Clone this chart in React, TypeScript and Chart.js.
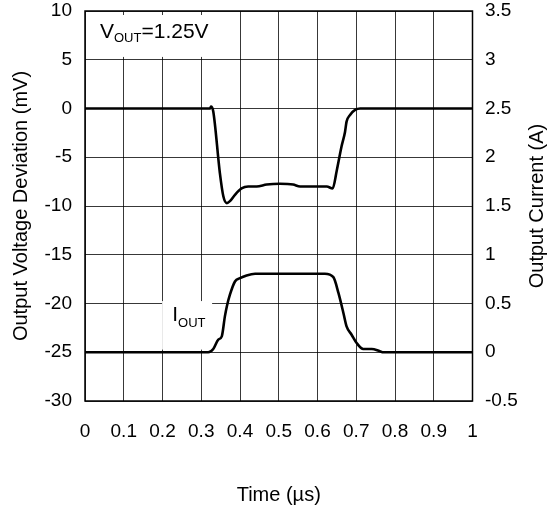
import { useEffect, useRef } from 'react';
import { Chart, registerables } from 'chart.js';

Chart.register(...registerables);

const FONT = '"Liberation Sans", Arial, Helvetica, sans-serif';

// Time axis (µs) and series
const timeV = [0, 0.323, 0.325, 0.331, 0.348, 0.357, 0.366, 0.374, 0.387, 0.404, 0.421, 0.443, 0.469, 0.503, 0.537, 0.555, 0.588, 0.624, 0.639, 0.65, 0.662, 0.671, 0.675, 0.684, 0.697, 0.71, 1.0];
const voltage = [0, 0, 0.2, -0.3, -6.6, -9.0, -9.7, -9.5, -8.85, -8.2, -8.0, -8.0, -7.8, -7.72, -7.8, -8.0, -8.0, -8.0, -8.2, -6.3, -3.9, -2.4, -1.35, -0.66, -0.15, 0, 0];

const timeI = [0, 0.318, 0.331, 0.344, 0.353, 0.361, 0.366, 0.374, 0.387, 0.4, 0.417, 0.439, 0.619, 0.641, 0.654, 0.667, 0.675, 0.688, 0.701, 0.718, 0.74, 0.761, 0.77, 1.0];
const current = [0, 0, 0.034, 0.13, 0.163, 0.368, 0.47, 0.59, 0.726, 0.76, 0.788, 0.805, 0.805, 0.77, 0.608, 0.4, 0.265, 0.18, 0.095, 0.034, 0.034, 0.01, 0, 0];

const xTitle = 'Time (µs)';
const yLeftTitle = 'Output Voltage Deviation (mV)';
const yRightTitle = 'Output Current (A)';

function drawSubText(ctx: CanvasRenderingContext2D, x: number, base: number, subBase: number, main: string, sub: string, rest: string, mainSize: number, subSize: number) {
  ctx.textAlign = 'left';
  ctx.textBaseline = 'alphabetic';
  ctx.font = `${mainSize}px ${FONT}`;
  ctx.fillText(main, x, base);
  let cx = x + ctx.measureText(main).width;
  ctx.font = `${subSize}px ${FONT}`;
  ctx.fillText(sub, cx, subBase);
  cx += ctx.measureText(sub).width;
  if (rest) {
    ctx.font = `${mainSize}px ${FONT}`;
    ctx.fillText(rest, cx, base);
  }
}

const annotPlugin = {
  id: 'annot',
  beforeDatasetsDraw(chart: any) {
    const { ctx, chartArea } = chart;
    const x = chart.scales.x;
    const y = chart.scales.y;
    ctx.save();
    ctx.fillStyle = '#ffffff';
    // V_OUT label box
    let x0 = x.getPixelForValue(0.003), x1 = x.getPixelForValue(0.395);
    let y0 = y.getPixelForValue(9.59), y1 = y.getPixelForValue(5.29);
    ctx.fillRect(x0, y0, x1 - x0, y1 - y0);
    // I_OUT label box
    x0 = x.getPixelForValue(0.199); x1 = x.getPixelForValue(0.328);
    y0 = y.getPixelForValue(-19.75); y1 = y.getPixelForValue(-24.73);
    ctx.fillRect(x0, y0, x1 - x0, y1 - y0);
    // frame
    ctx.strokeStyle = '#000';
    ctx.lineWidth = 1.5;
    ctx.strokeRect(chartArea.left, chartArea.top, chartArea.right - chartArea.left, chartArea.bottom - chartArea.top);
    // texts
    ctx.fillStyle = '#000';
    drawSubText(ctx, x.getPixelForValue(0.0387), y.getPixelForValue(7.23), y.getPixelForValue(6.82), 'V', 'OUT', '=1.25V', 21, 13);
    drawSubText(ctx, x.getPixelForValue(0.225), y.getPixelForValue(-21.76), y.getPixelForValue(-22.38), 'I', 'OUT', '', 21, 13);
    // right axis title, reading bottom to top
    const y1s = chart.scales.y1;
    ctx.translate(y1s.right - 12, (chartArea.top + chartArea.bottom) / 2);
    ctx.rotate(-Math.PI / 2);
    ctx.font = `20px ${FONT}`;
    ctx.textAlign = 'center';
    ctx.textBaseline = 'middle';
    ctx.fillText(yRightTitle, 0, 0);
    ctx.restore();
  },
};

export default function App() {
  const ref = useRef<HTMLCanvasElement>(null);
  useEffect(() => {
    if (!ref.current) return;
    const tickFont = { family: FONT, size: 19 };
    const titleFont = { family: FONT, size: 20 };
    const chart = new Chart(ref.current, {
      type: 'line',
      data: {
        datasets: [
          {
            label: 'Voltage',
            data: timeV.map((t, i) => ({ x: t, y: voltage[i] })),
            borderColor: '#000',
            borderWidth: 2.6,
            pointRadius: 0,
            cubicInterpolationMode: 'monotone',
            yAxisID: 'y',
          },
          {
            label: 'Current',
            data: timeI.map((t, i) => ({ x: t, y: current[i] })),
            borderColor: '#000',
            borderWidth: 2.6,
            pointRadius: 0,
            cubicInterpolationMode: 'monotone',
            yAxisID: 'y1',
          },
        ],
      },
      options: {
        animation: false,
        responsive: true,
        maintainAspectRatio: false,
        layout: { padding: { top: 0, left: 0, right: 0, bottom: 0 } },
        plugins: { legend: { display: false }, tooltip: { enabled: false } },
        scales: {
          x: {
            type: 'linear',
            min: 0,
            max: 1,
            ticks: {
              stepSize: 0.1,
              color: '#000',
              font: tickFont,
              padding: 19,
              maxRotation: 0,
              autoSkip: false,
              callback: (v: any) => String(Number(Number(v).toFixed(1))),
            },
            grid: { color: 'rgba(0,0,0,0.78)', lineWidth: 1, drawTicks: false },
            border: { display: false },
            title: { display: true, text: xTitle, color: '#000', font: titleFont, padding: { top: 0, bottom: 4 } },
            afterFit: (s: any) => { s.height = 110; s.paddingLeft = 0; s.paddingRight = 0; },
          },
          y: {
            type: 'linear',
            position: 'left',
            min: -30,
            max: 10,
            ticks: { stepSize: 5, color: '#000', font: tickFont, padding: 13 },
            grid: { color: 'rgba(0,0,0,0.78)', lineWidth: 1, drawTicks: false },
            border: { display: false },
            title: { display: true, text: yLeftTitle, color: '#000', font: titleFont, padding: { top: 9, bottom: 0 } },
            afterFit: (s: any) => { s.width = 85; s.paddingTop = 11; s.paddingBottom = 0; },
          },
          y1: {
            type: 'linear',
            position: 'right',
            min: -0.5,
            max: 3.5,
            ticks: {
              stepSize: 0.5,
              color: '#000',
              font: tickFont,
              padding: 12.5,
              callback: (v: any) => String(Number(Number(v).toFixed(1))),
            },
            grid: { display: false, drawTicks: false },
            border: { display: false },
            title: { display: false },
            afterFit: (s: any) => { s.width = 76.5; s.paddingTop = 11; s.paddingBottom = 0; },
          },
        },
      },
      plugins: [annotPlugin],
    } as any);
    return () => chart.destroy();
  }, []);
  return (
    <div style={{ position: 'absolute', left: 0, top: 0, width: 549, height: 511, background: '#fff' }}>
      <canvas ref={ref} />
    </div>
  );
}
